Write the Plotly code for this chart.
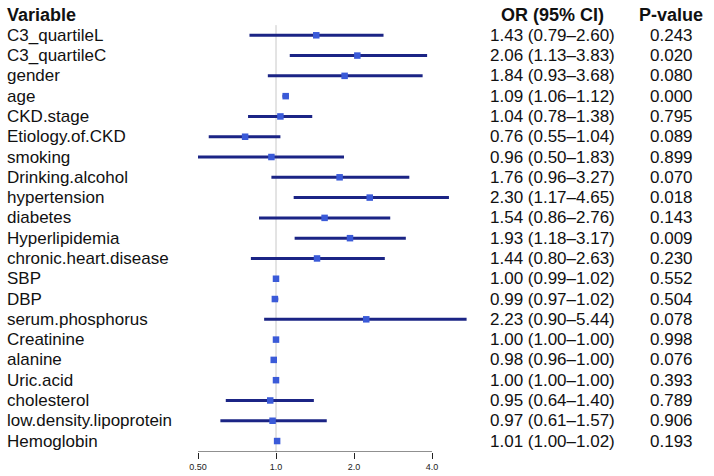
import math
import plotly.graph_objects as go

variables = ["C3_quartileL", "C3_quartileC", "gender", "age", "CKD.stage", "Etiology.of.CKD",
             "smoking", "Drinking.alcohol", "hypertension", "diabetes", "Hyperlipidemia",
             "chronic.heart.disease", "SBP", "DBP", "serum.phosphorus", "Creatinine", "alanine",
             "Uric.acid", "cholesterol", "low.density.lipoprotein", "Hemoglobin"]
or_vals = [1.43, 2.06, 1.84, 1.09, 1.04, 0.76, 0.96, 1.76, 2.30, 1.54, 1.93, 1.44, 1.00, 0.99,
           2.23, 1.00, 0.98, 1.00, 0.95, 0.97, 1.01]
lo_vals = [0.79, 1.13, 0.93, 1.06, 0.78, 0.55, 0.50, 0.96, 1.17, 0.86, 1.18, 0.80, 0.99, 0.97,
           0.90, 1.00, 0.96, 1.00, 0.64, 0.61, 1.00]
hi_vals = [2.60, 3.83, 3.68, 1.12, 1.38, 1.04, 1.83, 3.27, 4.65, 2.76, 3.17, 2.63, 1.02, 1.02,
           5.44, 1.00, 1.00, 1.00, 1.40, 1.57, 1.02]
p_vals = ["0.243", "0.020", "0.080", "0.000", "0.795", "0.089", "0.899", "0.070", "0.018", "0.143",
          "0.009", "0.230", "0.552", "0.504", "0.078", "0.998", "0.076", "0.393", "0.789", "0.906",
          "0.193"]
tick_vals = [0.5, 1.0, 2.0, 4.0]
tick_text = ["0.50", "1.0", "2.0", "4.0"]

W, H = 714, 476
FONT = "Liberation Sans, Arial, sans-serif"
FS = 17
FS_HEAD = 18
LINE_C = "#1b2485"
MARK_C = "#3a5ad8"

# pixel geometry
x1_px, px_per_oct = 276.0, 78.0
dom_px = (180.0, 480.0)
def px_to_log10(p):
    return (p - x1_px) / px_per_oct * math.log10(2)
xrange = [px_to_log10(dom_px[0]), px_to_log10(dom_px[1])]

n = len(variables)
ys = list(range(n))
y_bottom = n - 1 + 0.54
y_top = -1.0

fig = go.Figure()
for i in range(n):
    fig.add_trace(go.Scatter(x=[lo_vals[i], hi_vals[i]], y=[ys[i], ys[i]], mode="lines",
                             line=dict(color=LINE_C, width=3), hoverinfo="skip", showlegend=False))
fig.add_trace(go.Scatter(x=or_vals, y=ys, mode="markers",
                         marker=dict(symbol="square", size=6.5, color=MARK_C),
                         showlegend=False))

shapes = [
    dict(type="line", xref="x", yref="y", x0=1, x1=1, y0=-0.5, y1=y_bottom,
         line=dict(color="#c8c8c8", width=1), layer="below"),
    dict(type="line", xref="x", yref="y", x0=0.5, x1=4.0, y0=y_bottom, y1=y_bottom,
         line=dict(color="#222222", width=1.2)),
]

annotations = []
def ann(text, xp, y, anchor, bold=False):
    annotations.append(dict(text=("<b>%s</b>" % text) if bold else text, xref="paper", yref="y",
                            x=xp / W, y=y, xanchor=anchor, yanchor="middle", showarrow=False,
                            font=dict(family=FONT, size=FS_HEAD if bold else FS, color="#111111")))

ann("Variable", 5, y_top, "left", True)
ann("OR (95% CI)", 552, y_top, "center", True)
ann("P-value", 671, y_top, "center", True)
for i in range(n):
    ann(variables[i], 5, ys[i], "left")
    ann("%.2f (%.2f\u2013%.2f)" % (or_vals[i], lo_vals[i], hi_vals[i]), 552, ys[i], "center")
    ann(p_vals[i], 671, ys[i], "center")

fig.update_layout(
    width=W, height=H, margin=dict(l=0, r=0, t=15, b=H - 452),
    paper_bgcolor="white", plot_bgcolor="white",
    xaxis=dict(type="log", range=xrange, domain=[dom_px[0] / W, dom_px[1] / W],
               tickvals=tick_vals, ticktext=tick_text, ticks="outside", ticklen=6,
               tickcolor="#222222", showgrid=False, zeroline=False, showline=False,
               tickfont=dict(family=FONT, size=9, color="#222222")),
    yaxis=dict(range=[y_bottom, y_top], visible=False, showgrid=False, zeroline=False),
    shapes=shapes, annotations=annotations,
)
fig.write_html("out.html")
